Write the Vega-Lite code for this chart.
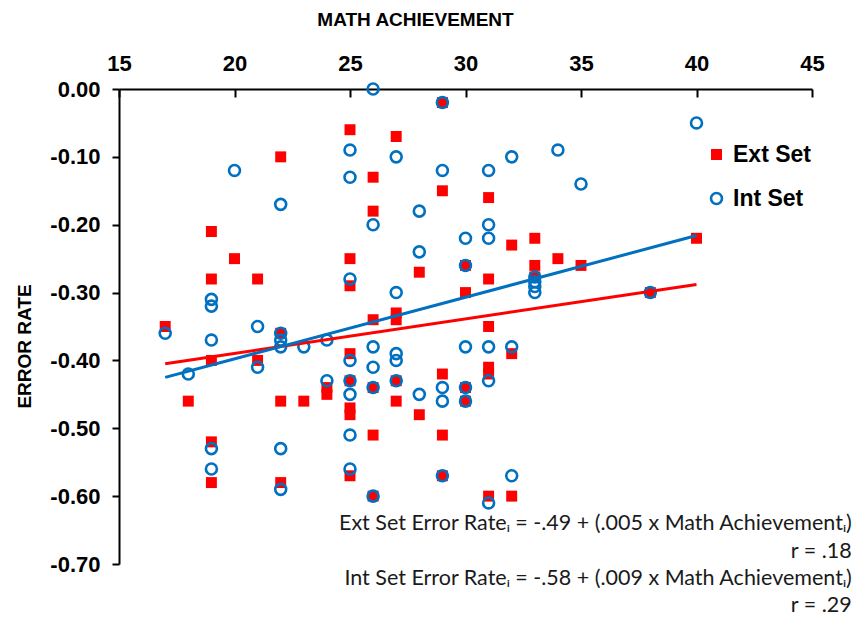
{
  "$schema": "https://vega.github.io/schema/vega-lite/v6.json",
  "width": 693,
  "height": 475,
  "autosize": {"type": "none"},
  "padding": {"left": 119, "top": 89, "right": 42, "bottom": 55},
  "background": "white",
  "config": {"view": {"stroke": null}, "font": "Liberation Sans"},
  "datasets": {
    "pts": [
      {"set": "Ext Set", "math": 17, "err": -0.35},
      {"set": "Ext Set", "math": 18, "err": -0.46},
      {"set": "Ext Set", "math": 19, "err": -0.21},
      {"set": "Ext Set", "math": 19, "err": -0.28},
      {"set": "Ext Set", "math": 19, "err": -0.40},
      {"set": "Ext Set", "math": 19, "err": -0.52},
      {"set": "Ext Set", "math": 19, "err": -0.58},
      {"set": "Ext Set", "math": 20, "err": -0.25},
      {"set": "Ext Set", "math": 21, "err": -0.28},
      {"set": "Ext Set", "math": 21, "err": -0.40},
      {"set": "Ext Set", "math": 22, "err": -0.10},
      {"set": "Ext Set", "math": 22, "err": -0.36},
      {"set": "Ext Set", "math": 22, "err": -0.46},
      {"set": "Ext Set", "math": 22, "err": -0.58},
      {"set": "Ext Set", "math": 23, "err": -0.46},
      {"set": "Ext Set", "math": 24, "err": -0.44},
      {"set": "Ext Set", "math": 24, "err": -0.45},
      {"set": "Ext Set", "math": 25, "err": -0.06},
      {"set": "Ext Set", "math": 25, "err": -0.25},
      {"set": "Ext Set", "math": 25, "err": -0.29},
      {"set": "Ext Set", "math": 25, "err": -0.39},
      {"set": "Ext Set", "math": 25, "err": -0.43},
      {"set": "Ext Set", "math": 25, "err": -0.47},
      {"set": "Ext Set", "math": 25, "err": -0.48},
      {"set": "Ext Set", "math": 25, "err": -0.57},
      {"set": "Ext Set", "math": 26, "err": -0.13},
      {"set": "Ext Set", "math": 26, "err": -0.18},
      {"set": "Ext Set", "math": 26, "err": -0.34},
      {"set": "Ext Set", "math": 26, "err": -0.44},
      {"set": "Ext Set", "math": 26, "err": -0.51},
      {"set": "Ext Set", "math": 26, "err": -0.60},
      {"set": "Ext Set", "math": 27, "err": -0.07},
      {"set": "Ext Set", "math": 27, "err": -0.33},
      {"set": "Ext Set", "math": 27, "err": -0.34},
      {"set": "Ext Set", "math": 27, "err": -0.43},
      {"set": "Ext Set", "math": 27, "err": -0.46},
      {"set": "Ext Set", "math": 28, "err": -0.27},
      {"set": "Ext Set", "math": 28, "err": -0.48},
      {"set": "Ext Set", "math": 29, "err": -0.02},
      {"set": "Ext Set", "math": 29, "err": -0.15},
      {"set": "Ext Set", "math": 29, "err": -0.42},
      {"set": "Ext Set", "math": 29, "err": -0.51},
      {"set": "Ext Set", "math": 29, "err": -0.57},
      {"set": "Ext Set", "math": 30, "err": -0.26},
      {"set": "Ext Set", "math": 30, "err": -0.30},
      {"set": "Ext Set", "math": 30, "err": -0.44},
      {"set": "Ext Set", "math": 30, "err": -0.46},
      {"set": "Ext Set", "math": 31, "err": -0.16},
      {"set": "Ext Set", "math": 31, "err": -0.28},
      {"set": "Ext Set", "math": 31, "err": -0.35},
      {"set": "Ext Set", "math": 31, "err": -0.41},
      {"set": "Ext Set", "math": 31, "err": -0.42},
      {"set": "Ext Set", "math": 31, "err": -0.60},
      {"set": "Ext Set", "math": 32, "err": -0.23},
      {"set": "Ext Set", "math": 32, "err": -0.39},
      {"set": "Ext Set", "math": 32, "err": -0.60},
      {"set": "Ext Set", "math": 33, "err": -0.22},
      {"set": "Ext Set", "math": 33, "err": -0.26},
      {"set": "Ext Set", "math": 33, "err": -0.277},
      {"set": "Ext Set", "math": 34, "err": -0.25},
      {"set": "Ext Set", "math": 35, "err": -0.26},
      {"set": "Ext Set", "math": 38, "err": -0.30},
      {"set": "Ext Set", "math": 40, "err": -0.22},
      {"set": "Int Set", "math": 17, "err": -0.36},
      {"set": "Int Set", "math": 18, "err": -0.42},
      {"set": "Int Set", "math": 19, "err": -0.31},
      {"set": "Int Set", "math": 19, "err": -0.32},
      {"set": "Int Set", "math": 19, "err": -0.37},
      {"set": "Int Set", "math": 19, "err": -0.53},
      {"set": "Int Set", "math": 19, "err": -0.56},
      {"set": "Int Set", "math": 20, "err": -0.12},
      {"set": "Int Set", "math": 21, "err": -0.35},
      {"set": "Int Set", "math": 21, "err": -0.41},
      {"set": "Int Set", "math": 22, "err": -0.17},
      {"set": "Int Set", "math": 22, "err": -0.36},
      {"set": "Int Set", "math": 22, "err": -0.37},
      {"set": "Int Set", "math": 22, "err": -0.38},
      {"set": "Int Set", "math": 22, "err": -0.53},
      {"set": "Int Set", "math": 22, "err": -0.59},
      {"set": "Int Set", "math": 23, "err": -0.38},
      {"set": "Int Set", "math": 24, "err": -0.37},
      {"set": "Int Set", "math": 24, "err": -0.43},
      {"set": "Int Set", "math": 25, "err": -0.09},
      {"set": "Int Set", "math": 25, "err": -0.13},
      {"set": "Int Set", "math": 25, "err": -0.28},
      {"set": "Int Set", "math": 25, "err": -0.40},
      {"set": "Int Set", "math": 25, "err": -0.43},
      {"set": "Int Set", "math": 25, "err": -0.45},
      {"set": "Int Set", "math": 25, "err": -0.51},
      {"set": "Int Set", "math": 25, "err": -0.56},
      {"set": "Int Set", "math": 26, "err": 0.0},
      {"set": "Int Set", "math": 26, "err": -0.20},
      {"set": "Int Set", "math": 26, "err": -0.38},
      {"set": "Int Set", "math": 26, "err": -0.41},
      {"set": "Int Set", "math": 26, "err": -0.44},
      {"set": "Int Set", "math": 26, "err": -0.60},
      {"set": "Int Set", "math": 27, "err": -0.10},
      {"set": "Int Set", "math": 27, "err": -0.30},
      {"set": "Int Set", "math": 27, "err": -0.39},
      {"set": "Int Set", "math": 27, "err": -0.40},
      {"set": "Int Set", "math": 27, "err": -0.43},
      {"set": "Int Set", "math": 28, "err": -0.18},
      {"set": "Int Set", "math": 28, "err": -0.24},
      {"set": "Int Set", "math": 28, "err": -0.45},
      {"set": "Int Set", "math": 29, "err": -0.02},
      {"set": "Int Set", "math": 29, "err": -0.12},
      {"set": "Int Set", "math": 29, "err": -0.44},
      {"set": "Int Set", "math": 29, "err": -0.46},
      {"set": "Int Set", "math": 29, "err": -0.57},
      {"set": "Int Set", "math": 30, "err": -0.22},
      {"set": "Int Set", "math": 30, "err": -0.26},
      {"set": "Int Set", "math": 30, "err": -0.38},
      {"set": "Int Set", "math": 30, "err": -0.44},
      {"set": "Int Set", "math": 30, "err": -0.46},
      {"set": "Int Set", "math": 31, "err": -0.12},
      {"set": "Int Set", "math": 31, "err": -0.20},
      {"set": "Int Set", "math": 31, "err": -0.22},
      {"set": "Int Set", "math": 31, "err": -0.38},
      {"set": "Int Set", "math": 31, "err": -0.43},
      {"set": "Int Set", "math": 31, "err": -0.61},
      {"set": "Int Set", "math": 32, "err": -0.10},
      {"set": "Int Set", "math": 32, "err": -0.38},
      {"set": "Int Set", "math": 32, "err": -0.57},
      {"set": "Int Set", "math": 33, "err": -0.277},
      {"set": "Int Set", "math": 33, "err": -0.284},
      {"set": "Int Set", "math": 33, "err": -0.291},
      {"set": "Int Set", "math": 33, "err": -0.30},
      {"set": "Int Set", "math": 34, "err": -0.09},
      {"set": "Int Set", "math": 35, "err": -0.14},
      {"set": "Int Set", "math": 38, "err": -0.30},
      {"set": "Int Set", "math": 40, "err": -0.05}
    ],
    "fitExt": [
      {"math": 17, "err": -0.405},
      {"math": 40, "err": -0.288}
    ],
    "fitInt": [
      {"math": 17, "err": -0.425},
      {"math": 40, "err": -0.216}
    ],
    "notes": [
      {"tx": 46.72, "ty": -0.6406, "label": "Ext Set Error Rateᵢ = -.49 + (.005 x Math Achievementᵢ)"},
      {"tx": 46.72, "ty": -0.6823, "label": "r = .18"},
      {"tx": 46.72, "ty": -0.7216, "label": "Int Set Error Rateᵢ = -.58 + (.009 x Math Achievementᵢ)"},
      {"tx": 46.72, "ty": -0.7614, "label": "r = .29"}
    ]
  },
  "layer": [
    {
      "data": {"name": "pts"},
      "mark": {"type": "point", "strokeWidth": 2.6, "size": 120, "opacity": 1},
      "encoding": {
        "x": {
          "field": "math", "type": "quantitative",
          "scale": {"domain": [15, 45], "nice": false, "zero": false},
          "axis": {
            "orient": "top", "values": [15, 20, 25, 30, 35, 40, 45], "grid": false,
            "domainColor": "black", "domainWidth": 2, "tickColor": "black", "tickWidth": 2, "tickSize": -8,
            "labelFont": "Liberation Sans", "labelFontSize": 22, "labelFontWeight": "bold", "labelColor": "black",
            "labelPadding": 27, "labelBaseline": "alphabetic", "labelFlush": false,
            "title": "MATH ACHIEVEMENT", "titleFont": "Liberation Sans", "titleFontSize": 19, "titleFontWeight": "bold",
            "titleColor": "black", "titleX": 296, "titleY": -70, "titleBaseline": "middle", "titleAlign": "center"
          }
        },
        "y": {
          "field": "err", "type": "quantitative",
          "scale": {"domain": [-0.7, 0], "nice": false, "zero": false},
          "axis": {
            "values": [0, -0.1, -0.2, -0.3, -0.4, -0.5, -0.6, -0.7],
            "labelExpr": "datum.value == 0 ? '0.00' : '-' + format(-datum.value, '.2f')", "grid": false,
            "domainColor": "black", "domainWidth": 2, "tickColor": "black", "tickWidth": 2, "tickSize": 7,
            "labelFont": "Liberation Sans", "labelFontSize": 22, "labelFontWeight": "bold", "labelColor": "black",
            "labelPadding": 12, "labelFlush": false,
            "title": "ERROR RATE", "titleFont": "Liberation Sans", "titleFontSize": 19, "titleFontWeight": "bold",
            "titleColor": "black", "titleX": -95, "titleY": 257, "titleAngle": -90, "titleBaseline": "middle", "titleAlign": "center"
          }
        },
        "shape": {"field": "set", "type": "nominal", "scale": {"domain": ["Ext Set", "Int Set"], "range": ["square", "circle"]},
          "legend": {
            "orient": "none", "legendX": 586, "legendY": 54, "title": null,
            "labelFont": "Liberation Sans", "labelFontSize": 23, "labelFontWeight": "bold", "labelColor": "black",
            "symbolSize": 120, "symbolStrokeWidth": 2.6, "rowPadding": 20, "labelOffset": 5
          }},
        "fill": {"field": "set", "type": "nominal", "scale": {"domain": ["Ext Set", "Int Set"], "range": ["#FF0000", "transparent"]}},
        "stroke": {"field": "set", "type": "nominal", "scale": {"domain": ["Ext Set", "Int Set"], "range": ["transparent", "#0070C0"]}}
      }
    },
    {
      "data": {"name": "fitExt"},
      "mark": {"type": "line", "color": "#FF0000", "strokeWidth": 3},
      "encoding": {"x": {"field": "math", "type": "quantitative"}, "y": {"field": "err", "type": "quantitative"}}
    },
    {
      "data": {"name": "fitInt"},
      "mark": {"type": "line", "color": "#0070C0", "strokeWidth": 3},
      "encoding": {"x": {"field": "math", "type": "quantitative"}, "y": {"field": "err", "type": "quantitative"}}
    },
    {
      "data": {"name": "notes"},
      "mark": {"type": "text", "align": "right", "baseline": "middle", "font": "Lato", "fontSize": 21.5, "color": "#1a1a1a"},
      "encoding": {
        "x": {"field": "tx", "type": "quantitative"},
        "y": {"field": "ty", "type": "quantitative"},
        "text": {"field": "label"}
      }
    }
  ]
}
